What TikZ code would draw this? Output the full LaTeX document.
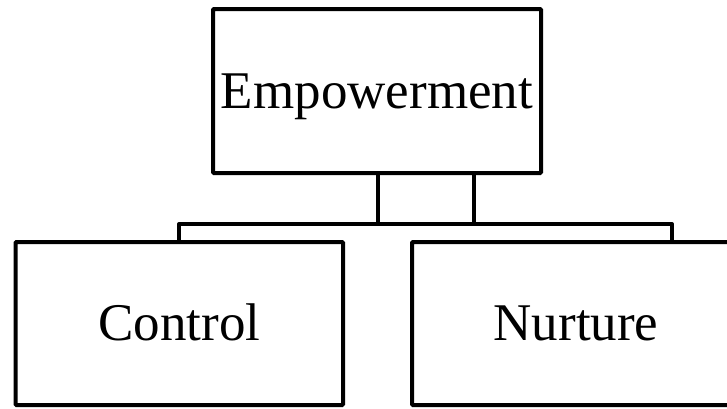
\documentclass[tikz,border=0pt]{standalone}
\usepackage{fontspec}
\setmainfont{Liberation Serif}
\begin{document}
\begin{tikzpicture}[x=1pt,y=-1pt,
  box/.style={draw=black,line width=4pt,rounded corners=1pt,inner sep=0pt,
    font=\fontsize{53}{60}\selectfont,text height=36pt,text depth=2pt,
    minimum height=#1},
  box/.default=163pt,
  link/.style={draw=black,line width=4pt,line join=round}]
\useasboundingbox (0,0) rectangle (727,408);
\clip (0,0) rectangle (727,408);
\node[box=164pt,minimum width=328pt] (emp) at (377,91) {Empowerment};
\node[box,minimum width=327.5pt] (ctrl) at (179.25,323.5) {Control};
\node[box,minimum width=328pt] (nurt) at (576,323.5) {Nurture};
\coordinate (jl) at (474,224);
\coordinate (jr) at (378,224);
\path[link] (emp.south -| jl) -- (jl) -| (ctrl.north);
\path[link] (emp.south -| jr) -- (jr) -| (nurt.north -| 672,0);
\end{tikzpicture}
\end{document}
